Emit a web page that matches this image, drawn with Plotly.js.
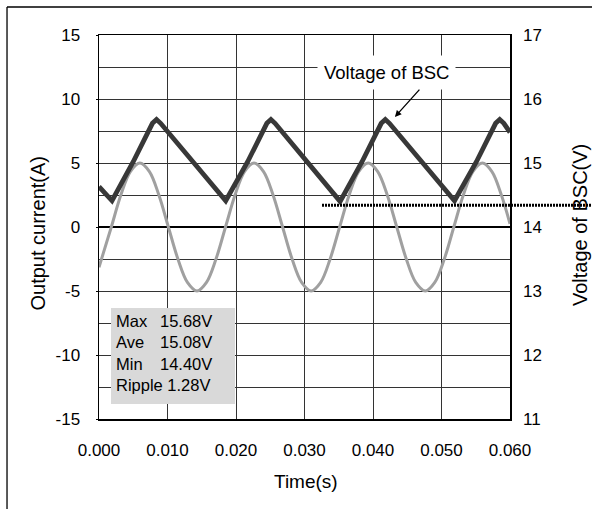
<!DOCTYPE html>
<html>
<head>
<meta charset="utf-8">
<script src="https://cdn.plot.ly/plotly-3.0.1.min.js"></script>
<style>html,body{margin:0;padding:0;background:#fff;overflow:hidden;}#chart{width:592px;height:509px;overflow:hidden;}</style>
</head>
<body>
<div id="chart"></div>
<script>
var currT = [0.00000, 0.00180, 0.00319, 0.00458, 0.00597, 0.00736, 0.00874, 0.01013, 0.01152, 0.01291, 0.01430,
             0.01569, 0.01708, 0.01847, 0.01986, 0.02124, 0.02263, 0.02402, 0.02541, 0.02680, 0.02819, 0.02958,
             0.03097, 0.03236, 0.03374, 0.03513, 0.03652, 0.03791, 0.03930, 0.04069, 0.04208, 0.04347, 0.04486,
             0.04624, 0.04763, 0.04902, 0.05041, 0.05180, 0.05319, 0.05458, 0.05597, 0.05736, 0.05874, 0.06000];
var currA = [-3.14, 0.00, 2.50, 4.33, 5.00, 4.33, 2.50, 0.00, -2.50, -4.33, -5.00,
             -4.33, -2.50, 0.00, 2.50, 4.33, 5.00, 4.33, 2.50, 0.00, -2.50, -4.33,
             -5.00, -4.33, -2.50, 0.00, 2.50, 4.33, 5.00, 4.33, 2.50, 0.00, -2.50,
             -4.33, -5.00, -4.33, -2.50, 0.00, 2.50, 4.33, 5.00, 4.33, 2.50, 0.25];

// Voltage of BSC (V), right axis
var voltT = [0.0000, 0.0019, 0.0050, 0.0078, 0.0084, 0.0090, 0.0185, 0.0217, 0.0245, 0.0251, 0.0257,
             0.0352, 0.0384, 0.0412, 0.0418, 0.0424, 0.0519, 0.0551, 0.0579, 0.0585, 0.0591, 0.0600];
var voltV = [14.63, 14.41, 15.02, 15.62, 15.68, 15.62, 14.41, 15.02, 15.62, 15.68, 15.62,
             14.40, 15.02, 15.62, 15.68, 15.62, 14.41, 15.02, 15.62, 15.68, 15.62, 15.48];

// Tick labels
var leftTickVals = [-15, -10, -5, 0, 5, 10, 15];
var leftTickText = ['-15', '-10', '-5', '0', '5', '10', '15'];
var rightTickVals = [11, 12, 13, 14, 15, 16, 17];
var rightTickText = ['11', '12', '13', '14', '15', '16', '17'];
var timeTickVals = [0, 0.01, 0.02, 0.03, 0.04, 0.05, 0.06];
var timeTickText = ['0.000', '0.010', '0.020', '0.030', '0.040', '0.050', '0.060'];

// Summary box
var statLabels = ['Max', 'Ave', 'Min', 'Ripple 1.28V'];
var statValues = ['15.68V', '15.08V', '14.40V'];

// Reference level (dotted) and arrow target
var refLevelV = 14.34;
var arrowT = 0.0432, arrowV = 15.72;
var labelT = 0.0420;

var FONT = 'Liberation Sans, Arial, sans-serif';
var GRID = '#333333';

var traces = [
  {x: currT, y: currA, type: 'scatter', mode: 'lines', yaxis: 'y',
   line: {color: '#a0a0a0', width: 3, shape: 'spline', smoothing: 1}, hoverinfo: 'skip'},
  {x: voltT, y: voltV, type: 'scatter', mode: 'lines', yaxis: 'y2',
   line: {color: '#383838', width: 4.8}, hoverinfo: 'skip'}
];

var layout = {
  width: 592, height: 509,
  margin: {l: 99, r: 82, t: 35, b: 90},
  paper_bgcolor: '#ffffff', plot_bgcolor: '#ffffff',
  showlegend: false,
  font: {family: FONT, size: 17, color: '#000'},
  xaxis: {
    range: [0, 0.06], tickmode: 'array', tickvals: timeTickVals, ticktext: timeTickText,
    showgrid: true, gridcolor: GRID, gridwidth: 1,
    zeroline: false, showline: true, linecolor: '#000', linewidth: 1.5, mirror: true,
    ticks: '', ticklabelstandoff: 15, tickfont: {family: FONT, size: 17, color: '#000'}
  },
  yaxis: {
    range: [-15, 15], tickmode: 'array', tickvals: leftTickVals, ticktext: leftTickText,
    showgrid: true, gridcolor: GRID, gridwidth: 1,
    minor: {tickmode: 'linear', tick0: 0, dtick: 2.5, showgrid: true, gridcolor: GRID, gridwidth: 1},
    zeroline: true, zerolinecolor: '#000', zerolinewidth: 2.5,
    showline: true, linecolor: '#000', linewidth: 1.5, mirror: true,
    ticks: 'outside', ticklen: 2, tickcolor: '#000',
    ticklabelstandoff: 12, tickfont: {family: FONT, size: 17, color: '#000'}
  },
  yaxis2: {
    overlaying: 'y', side: 'right', range: [11, 17],
    tickmode: 'array', tickvals: rightTickVals, ticktext: rightTickText,
    showgrid: false, zeroline: false, showline: false, ticks: '',
    ticklabelstandoff: 12, tickfont: {family: FONT, size: 17, color: '#000'}
  },
  shapes: [
    // outer frame: top and left edges (it runs off the right and bottom of the picture)
    {type: 'line', xref: 'paper', yref: 'paper', x0: -0.2238, x1: 1.2, y0: 1.0729, y1: 1.0729,
     line: {color: '#000', width: 1.3}, layer: 'above'},
    {type: 'line', xref: 'paper', yref: 'paper', x0: -0.2238, x1: -0.2238, y0: -0.25, y1: 1.0729,
     line: {color: '#000', width: 1.3}, layer: 'above'},
    // stats box
    {type: 'rect', xref: 'paper', yref: 'paper', x0: 0.0292, x1: 0.3309, y0: 0.0391, y1: 0.2891,
     line: {width: 0}, fillcolor: '#d9d9d9', layer: 'above'},
    // dotted reference line
    {type: 'line', xref: 'paper', yref: 'paper', x0: 0.5426, x1: 1.2,
     y0: (refLevelV - 11) / 6, y1: (refLevelV - 11) / 6,
     line: {color: '#000', width: 3, dash: '2px,1px'}, layer: 'above'}
  ],
  annotations: [
    {text: 'Output current(A)', xref: 'paper', yref: 'paper', x: -0.1484, y: 0.483,
     textangle: -90, showarrow: false, font: {family: FONT, size: 20, color: '#000'},
     xanchor: 'center', yanchor: 'middle'},
    {text: 'Voltage of BSC(V)', xref: 'paper', yref: 'paper', x: 1.1703, y: 0.505,
     textangle: -90, showarrow: false, font: {family: FONT, size: 20, color: '#000'},
     xanchor: 'center', yanchor: 'middle'},
    {text: 'Time(s)', xref: 'paper', yref: 'paper', x: 0.5036, y: -0.164,
     showarrow: false, font: {family: FONT, size: 19, color: '#000'},
     xanchor: 'center', yanchor: 'middle'},
    {text: 'Voltage of BSC', xref: 'x', yref: 'paper', x: labelT, y: 0.902,
     showarrow: false, font: {family: FONT, size: 18.5, color: '#000'},
     bgcolor: '#ffffff', borderpad: 6, xanchor: 'center', yanchor: 'middle'},
    {text: ' ', xref: 'x', yref: 'y2', x: arrowT, y: arrowV, ax: 26, ay: -29,
     showarrow: true, arrowhead: 2, arrowsize: 1, arrowwidth: 1.3, arrowcolor: '#000',
     standoff: 0, startstandoff: 0, font: {size: 1}},
    {text: statLabels.join('<br>'), xref: 'paper', yref: 'paper', x: 0.0389, y: 0.1719,
     showarrow: false, align: 'left', xanchor: 'left', yanchor: 'middle', borderpad: 0,
     font: {family: FONT, size: 16.5, color: '#000'}},
    {text: statValues.join('<br>'), xref: 'paper', yref: 'paper', x: 0.146, y: 0.1987,
     showarrow: false, align: 'left', xanchor: 'left', yanchor: 'middle', borderpad: 0,
     font: {family: FONT, size: 16.5, color: '#000'}}
  ]
};

Plotly.newPlot('chart', traces, layout, {staticPlot: true, displayModeBar: false});
</script>
</body>
</html>
